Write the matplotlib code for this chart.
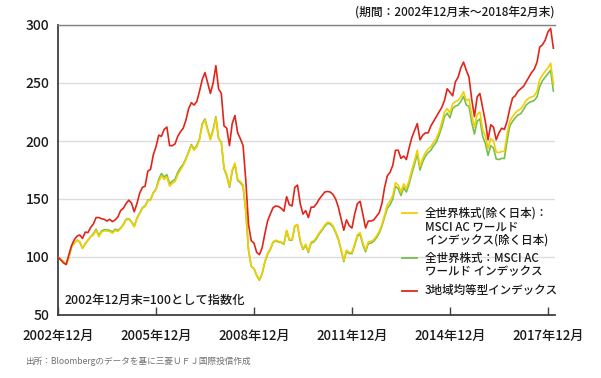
import numpy as np
import matplotlib
matplotlib.use('Agg')
import matplotlib.pyplot as plt

plt.rcParams['font.family'] = ['Noto Sans CJK JP', 'DejaVu Sans']

# ---- data (monthly, 2002-12 .. 2018-02, index 2002-12 = 100) ----
red_vals = [
    100, 97.5, 95, 93.5, 102, 110, 115, 118, 119, 116, 121.5, 121, 125.5,
    128.5, 134, 134, 133, 132.5, 131, 132.5, 130.5, 132, 134.5, 140, 142,
    146, 149, 146.5, 139, 146, 155, 160, 161, 174, 175.5, 188, 195,
    205, 204, 210, 212, 196, 196, 197.5, 204, 208, 211, 218, 228,
    233, 231, 234, 243, 253, 259, 250, 241, 250, 265, 245, 241,
    213, 211, 196, 215, 222, 207, 202, 196, 166, 128, 114, 112,
    104, 102, 108, 120, 131, 137, 142.5, 144, 143.5, 142, 139.5, 152,
    145, 144, 160, 162, 146, 137, 140, 134, 143, 143, 146, 150,
    153, 156, 156.5, 156, 154, 150, 143, 133, 123, 132, 127, 125,
    137, 146, 148, 137, 125, 131, 131, 132, 135, 138, 146, 160,
    170, 173, 179, 192, 192, 185, 187, 184, 194, 203, 209, 215,
    201, 205, 207, 207, 213, 217, 221, 225, 229, 235, 245, 242,
    239, 251, 255, 263, 268, 261, 255, 236, 221, 238, 241, 229,
    217, 201, 214, 212, 201, 207, 211, 210, 217, 228, 237, 239,
    243, 245, 247, 251, 255, 259, 262, 268, 281, 283, 287, 294,
    297, 280,
]
yellow_vals = [
    100, 98, 96, 93.5, 100, 109, 112, 114.5, 113, 107.5, 111.5, 114.5, 117.5,
    119, 123, 117.5, 121.5, 122.5, 122.5, 122, 120.5, 123, 122, 124.5, 127.5,
    132, 132.5, 130, 126, 133, 137.5, 142, 143.5, 148.5, 149, 155, 158,
    165, 170, 167, 169, 161, 163.5, 165, 171, 175, 179, 184, 190,
    196, 192, 195, 201, 214, 218, 209, 201, 209, 220, 202, 199,
    177, 171, 161, 175, 181, 167, 165, 162, 140, 106, 92, 90,
    84.5, 80.5, 86, 96, 103, 107, 113, 114.5, 113.5, 113, 111.5, 123,
    115, 115, 127, 128, 114, 107, 111, 105, 113, 114, 117, 121,
    124, 127.5, 130, 129.5, 127, 122, 116, 107, 97, 106, 104, 104,
    111, 119, 121, 112, 106, 113, 113.5, 115, 118, 122, 128, 136,
    145, 148, 153, 164, 162, 156, 163, 159, 166, 175, 183, 192,
    178, 185, 190, 193, 195, 199, 202, 208, 216, 225, 228, 224,
    232, 234, 235, 238, 242.5, 235, 236, 222, 212, 223, 225, 210,
    204, 193.5, 202, 200, 190.5, 190, 191, 191, 206, 217, 221, 224,
    226.5, 227.5, 231, 235, 237, 238, 239, 243, 253, 257, 260, 263,
    267, 249,
]
green_vals = [
    100, 98, 96, 93.5, 100, 109, 112, 114.5, 113, 107.5, 111.5, 114.5, 117.5,
    120, 124, 118.5, 122.5, 123.5, 123.5, 123, 121.5, 124, 123, 125, 128,
    132.5, 133, 130.5, 126.5, 133.5, 138, 142.5, 144, 149, 149.5, 155.5, 158.5,
    167, 172, 169, 171, 163, 165.5, 167, 173, 177, 180, 185, 191,
    197, 193, 196, 202, 215, 219, 210, 202, 210, 221, 202, 199,
    176, 170, 160, 174, 180, 166, 164, 161, 139, 106, 92, 90,
    84, 80, 85.5, 95.5, 102.5, 106.5, 112.5, 114, 113, 112.5, 111, 122.5,
    114.5, 114.5, 126.5, 127.5, 113.5, 106.5, 110, 104, 112, 113, 116, 120,
    123, 126.5, 129, 128.5, 126, 121, 115, 106, 96, 105, 103, 103,
    110, 118, 119.5, 110.5, 104.5, 111.5, 112, 113.5, 116.5, 120.5, 126.5, 134.5,
    142, 145, 150, 161, 159, 153, 160, 156, 163, 172, 180, 189,
    175, 182, 187, 190, 192, 196, 199, 205, 212, 221, 224, 220,
    228, 230, 231, 234, 238.5, 231, 230, 216, 206, 217, 219, 204,
    198, 187.5, 196, 194, 184.5, 184, 185, 185, 200, 213, 217, 220,
    222.5, 223.5, 227, 231, 233, 234, 235, 238, 247, 252, 255, 258,
    261, 243,
]
xtick_months = [0, 36, 72, 108, 144, 180]
xtick_labels = ['2002年12月', '2005年12月', '2008年12月',
                '2011年12月', '2014年12月', '2017年12月']
yticks = [50, 100, 150, 200, 250, 300]
legend_labels = ['全世界株式(除く日本)：\nMSCI AC ワールド\nインデックス(除く日本)',
                 '全世界株式：MSCI AC\nワールド インデックス',
                 '3地域均等型インデックス']
period_text = '(期間：2002年12月末～2018年2月末)'
note_text = '2002年12月末=100として指数化'
source_text = '出所：Bloombergのデータを基に三菱ＵＦＪ国際投信作成'

RED = '#e1251b'
YELLOW = '#f2cf00'
GREEN = '#74c04f'
TXT = '#1a1a1a'

W, H = 601, 378
months = np.arange(len(red_vals))

fig = plt.figure(figsize=(W / 100, H / 100), dpi=100)
ax = fig.add_axes([58 / W, (H - 315) / H, 497 / W, 290 / H])

ax.plot(months, green_vals, color=GREEN, lw=1.2, zorder=3)
ax.plot(months, yellow_vals, color=YELLOW, lw=1.2, zorder=4)
ax.plot(months, red_vals, color=RED, lw=1.2, zorder=5)

ax.set_xlim(0, 182.6)
ax.set_ylim(50, 300)
ax.set_yticks(yticks)
ax.set_xticks(xtick_months)
ax.set_xticklabels(xtick_labels)
ax.yaxis.grid(True, color='#dcdcdc', lw=1.0)
ax.set_axisbelow(True)

ax.spines['right'].set_visible(False)
ax.spines['top'].set_color('#808080')
ax.spines['top'].set_linewidth(1.0)
for s in ['left', 'bottom']:
    ax.spines[s].set_color('#404040')
    ax.spines[s].set_linewidth(1.3)

ax.tick_params(axis='x', direction='in', length=6, width=1, color='#404040',
               pad=10, labelsize=9.5, labelcolor=TXT)
ax.tick_params(axis='y', length=0, pad=6, labelsize=10, labelcolor=TXT)
for lbl in ax.get_xticklabels() + ax.get_yticklabels():
    lbl.set_fontweight('medium')

def fx(px):
    return px / W

def fy(py):
    return 1 - py / H

fig.text(fx(555), fy(12), period_text, ha='right', va='center',
         fontsize=8.5, color=TXT, fontweight='medium')
fig.text(fx(65), fy(300), note_text, ha='left', va='center',
         fontsize=8.8, color=TXT, fontweight='medium')
fig.text(fx(25), fy(361), source_text, ha='left', va='center',
         fontsize=6.2, color='#707070')

# legend (manual, handles aligned with first text line)
colors = [YELLOW, GREEN, RED]
entry_tops = [213, 258, 290.5]
pitch = 13.5
for lab, col, top in zip(legend_labels, colors, entry_tops):
    fig.add_artist(plt.Line2D([fx(402), fx(417)], [fy(top), fy(top)],
                              color=col, lw=1.3, transform=fig.transFigure))
    for i, line in enumerate(lab.split('\n')):
        fig.text(fx(425), fy(top + i * pitch), line, ha='left', va='center',
                 fontsize=8.3, color=TXT, fontweight='medium')

fig.savefig('out.png', dpi=100)
